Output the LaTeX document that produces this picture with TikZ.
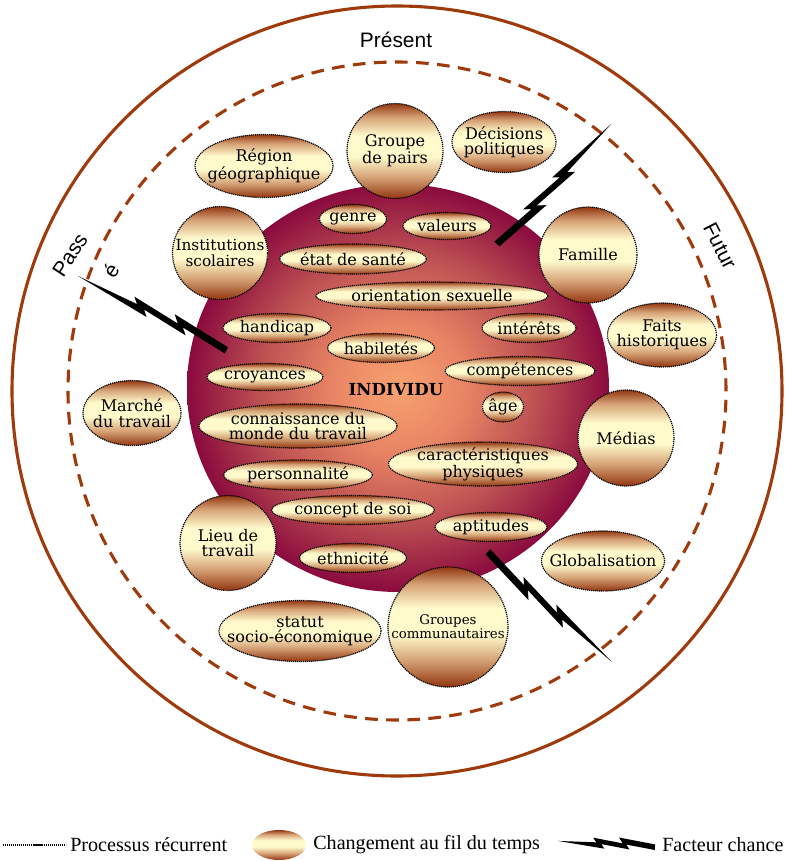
\documentclass[tikz,border=0pt]{standalone}
\usepackage{fontspec}
\setmainfont{DejaVu Serif}
\newfontfamily\labelsans{Liberation Sans}
\newfontfamily\legendserif{Liberation Serif}
\usetikzlibrary{shapes.geometric}

% colours
\definecolor{ringbrown}{RGB}{158,58,12}
\definecolor{bubedge}{RGB}{146,54,16}
\definecolor{bubtan}{RGB}{212,160,116}
\definecolor{bubcream}{RGB}{255,250,204}
\definecolor{indcore}{RGB}{248,162,112}
\definecolor{indinner}{RGB}{232,132,100}
\definecolor{indouter}{RGB}{188,80,82}
\definecolor{indrim}{RGB}{138,10,62}

% vertical gradient of the small bubbles (path box spans 25bp..75bp)
\pgfdeclareverticalshading{bubble}{100bp}{%
  color(0bp)=(bubedge); color(25bp)=(bubedge); color(36bp)=(bubtan);
  color(47bp)=(bubcream); color(58bp)=(bubcream); color(68bp)=(bubtan);
  color(75bp)=(bubedge); color(100bp)=(bubedge)}
% radial gradient of the central disc (rim at 25bp)
\pgfdeclareradialshading{individu}{\pgfpoint{0bp}{0bp}}{%
  color(0bp)=(indcore); color(8bp)=(indinner); color(16.5bp)=(indouter);
  color(25bp)=(indrim); color(50bp)=(indrim)}

\newcommand\bubfont{\fontsize{11.4}{11}\selectfont}
\newcommand\legendfont{\legendserif\fontsize{14.3}{16}\selectfont}
\newcommand\timefont{\labelsans\fontsize{14.9}{16}\selectfont}

% lightning bolt: thick end at the origin, tip at (166,0)
\newcommand\chancebolt{%
  \fill[black] (0,4.98) -- (49.1,0.07) -- (43.2,5.98) -- (91.8,1.11)
    -- (86.3,6.64) -- (166,0) -- (100.6,-0.73) -- (106.2,-6.31)
    -- (55.3,-1.21) -- (62.3,-8.22) -- (0,-1.99) -- cycle;}

\begin{document}
\begin{tikzpicture}[x=0.025cm, y=0.025cm,
  bub/.style={ellipse, draw=black, line width=0.85pt,
    dash pattern=on 0.85pt off 0.6pt, shade, shading=bubble, inner sep=0pt},
  sz/.style 2 args={minimum width=#1*0.025cm, minimum height=#2*0.025cm},
  bubtxt/.style={align=center, inner sep=0pt, font=\bubfont, text=black},
  timetxt/.style={inner sep=0pt, font=\timefont},
  ring/.style={draw=ringbrown, line width=2.2pt}]

\useasboundingbox (0,0) rectangle (784,-861);

% time rings
\draw[ring] (397,-391) circle (385);
\draw[ring, dash pattern=on 9pt off 6pt] (397,-391) circle (329);

\node[timetxt] (present) at (396,-40) {Présent};
\node[timetxt, rotate=-63] (futur) at (720,-246) {Futur};
\node[timetxt, rotate=57] (passe) at (70,-255) {Pass};
\node[timetxt, rotate=57] (passe-e) at (111,-270) {é};

% central disc
\node[ellipse, inner sep=0pt, minimum width=422*0.025cm, minimum height=408*0.025cm,
  shade, shading=individu] (core) at (398,-388) {};

% chance factors
\begin{scope}[shift={(498,-245)}, rotate=46.9]\chancebolt\end{scope}
\begin{scope}[shift={(227,-349)}, rotate=153.9]\chancebolt\end{scope}
\begin{scope}[shift={(487,-553)}, rotate=-41.1]\chancebolt\end{scope}

% surrounding contexts
\node[bub, sz={96}{95}]   (grp)    at (395,-151) {};
\node[bub, sz={104}{61}]  (dec)    at (504,-142) {};
\node[bub, sz={138}{63}]  (reg)    at (264,-166) {};
\node[bub, sz={95}{93}]   (inst)   at (220,-253) {};
\node[bub, sz={98}{96}]   (fam)    at (588,-255) {};
\node[bub, sz={109}{64}]  (faits)  at (662,-335) {};
\node[bub, sz={96}{96}]   (med)    at (626,-438) {};
\node[bub, sz={123}{60}]  (glob)   at (603,-561) {};
\node[bub, sz={120}{120}] (comm)   at (448,-627) {};
\node[bub, sz={162}{61}]  (statut) at (300,-631) {};
\node[bub, sz={96}{95}]   (lieu)   at (228,-543) {};
\node[bub, sz={98}{65}]   (marche) at (132,-413) {};

\node[bubtxt] (grp-t)    at (grp)    {Groupe\\de pairs};
\node[bubtxt] (dec-t)    at (dec)    {Décisions\\politiques};
\node[bubtxt] (reg-t)    at (reg)    {Région\\géographique};
\node[bubtxt, font=\fontsize{10.9}{10.8}\selectfont] (inst-t) at (inst) {Institutions\\scolaires};
\node[bubtxt] (fam-t)    at (fam)    {Famille};
\node[bubtxt] (faits-t)  at (faits)  {Faits\\historiques};
\node[bubtxt] (med-t)    at (med)    {Médias};
\node[bubtxt] (glob-t)   at (glob)   {Globalisation};
\node[bubtxt, font=\fontsize{9.5}{10}\selectfont] (comm-t) at (comm) {Groupes\\communautaires};
\node[bubtxt] (statut-t) at (statut) {statut\\socio-économique};
\node[bubtxt] (lieu-t)   at (lieu)   {Lieu de\\travail};
\node[bubtxt] (marche-t) at (marche) {Marché\\du travail};

% personal factors
\node[bub, sz={67}{29}]  (genre)   at (353,-219) {};
\node[bub, sz={88}{27}]  (val)     at (447,-226) {};
\node[bub, sz={147}{30}] (sante)   at (353,-259) {};
\node[bub, sz={232}{28}] (orient)  at (432,-296) {};
\node[bub, sz={108}{29}] (handi)   at (277,-328) {};
\node[bub, sz={94}{29}]  (inter)   at (529,-328) {};
\node[bub, sz={107}{29}] (habil)   at (381,-348) {};
\node[bub, sz={150}{29}] (comp)    at (520,-371) {};
\node[bub, sz={116}{27}] (croy)    at (265,-377) {};
\node[bub, sz={41}{30}]  (age)     at (503,-407) {};
\node[bub, sz={198}{44}] (conn)    at (298,-426) {};
\node[bub, sz={189}{44}] (carac)   at (483,-464) {};
\node[bub, sz={149}{30}] (perso)   at (298,-475) {};
\node[bub, sz={163}{29}] (concept) at (353,-510) {};
\node[bub, sz={112}{29}] (apt)     at (491,-527) {};
\node[bub, sz={107}{29}] (ethn)    at (353,-558) {};

\node[bubtxt] (genre-t)   at (genre)   {genre};
\node[bubtxt] (val-t)     at (val)     {valeurs};
\node[bubtxt] (sante-t)   at (sante)   {état de santé};
\node[bubtxt] (orient-t)  at (orient)  {orientation sexuelle};
\node[bubtxt] (handi-t)   at (handi)   {handicap};
\node[bubtxt] (inter-t)   at (inter)   {intérêts};
\node[bubtxt] (habil-t)   at (habil)   {habiletés};
\node[bubtxt] (comp-t)    at (comp)    {compétences};
\node[bubtxt] (croy-t)    at (croy)    {croyances};
\node[bubtxt] (age-t)     at (age)     {âge};
\node[bubtxt] (conn-t)    at (conn)    {connaissance du\\monde du travail};
\node[bubtxt] (carac-t)   at (carac)   {caractéristiques\\physiques};
\node[bubtxt] (perso-t)   at (perso)   {personnalité};
\node[bubtxt] (concept-t) at (concept) {concept de soi};
\node[bubtxt] (apt-t)     at (apt)     {aptitudes};
\node[bubtxt] (ethn-t)    at (ethn)    {ethnicité};

\node[inner sep=0pt, font=\fontsize{11.8}{12}\selectfont\bfseries] (indiv-t) at (396,-390) {INDIVIDU};

% legend
\coordinate (dotA) at (3,-845);
\coordinate (dotB) at (66,-845);
\draw[black, line width=0.8pt, dash pattern=on 0.8pt off 0.6pt] (dotA) -- (dotB);
\node[anchor=west, inner sep=0pt, font=\legendfont] (leg1-t) at (70,-845) {Processus récurrent};
\node[bub, sz={54}{30}, draw=none] (legbub) at (279,-845) {};
\node[anchor=west, inner sep=0pt, font=\legendfont] (leg2-t) at (313,-845) {Changement au fil du temps};
\begin{scope}[shift={(655,-846)}, rotate=177, xscale=0.585, yscale=0.8]\chancebolt\end{scope}
\node[anchor=west, inner sep=0pt, font=\legendfont] (leg3-t) at (662,-845) {Facteur chance};
\end{tikzpicture}
\end{document}
